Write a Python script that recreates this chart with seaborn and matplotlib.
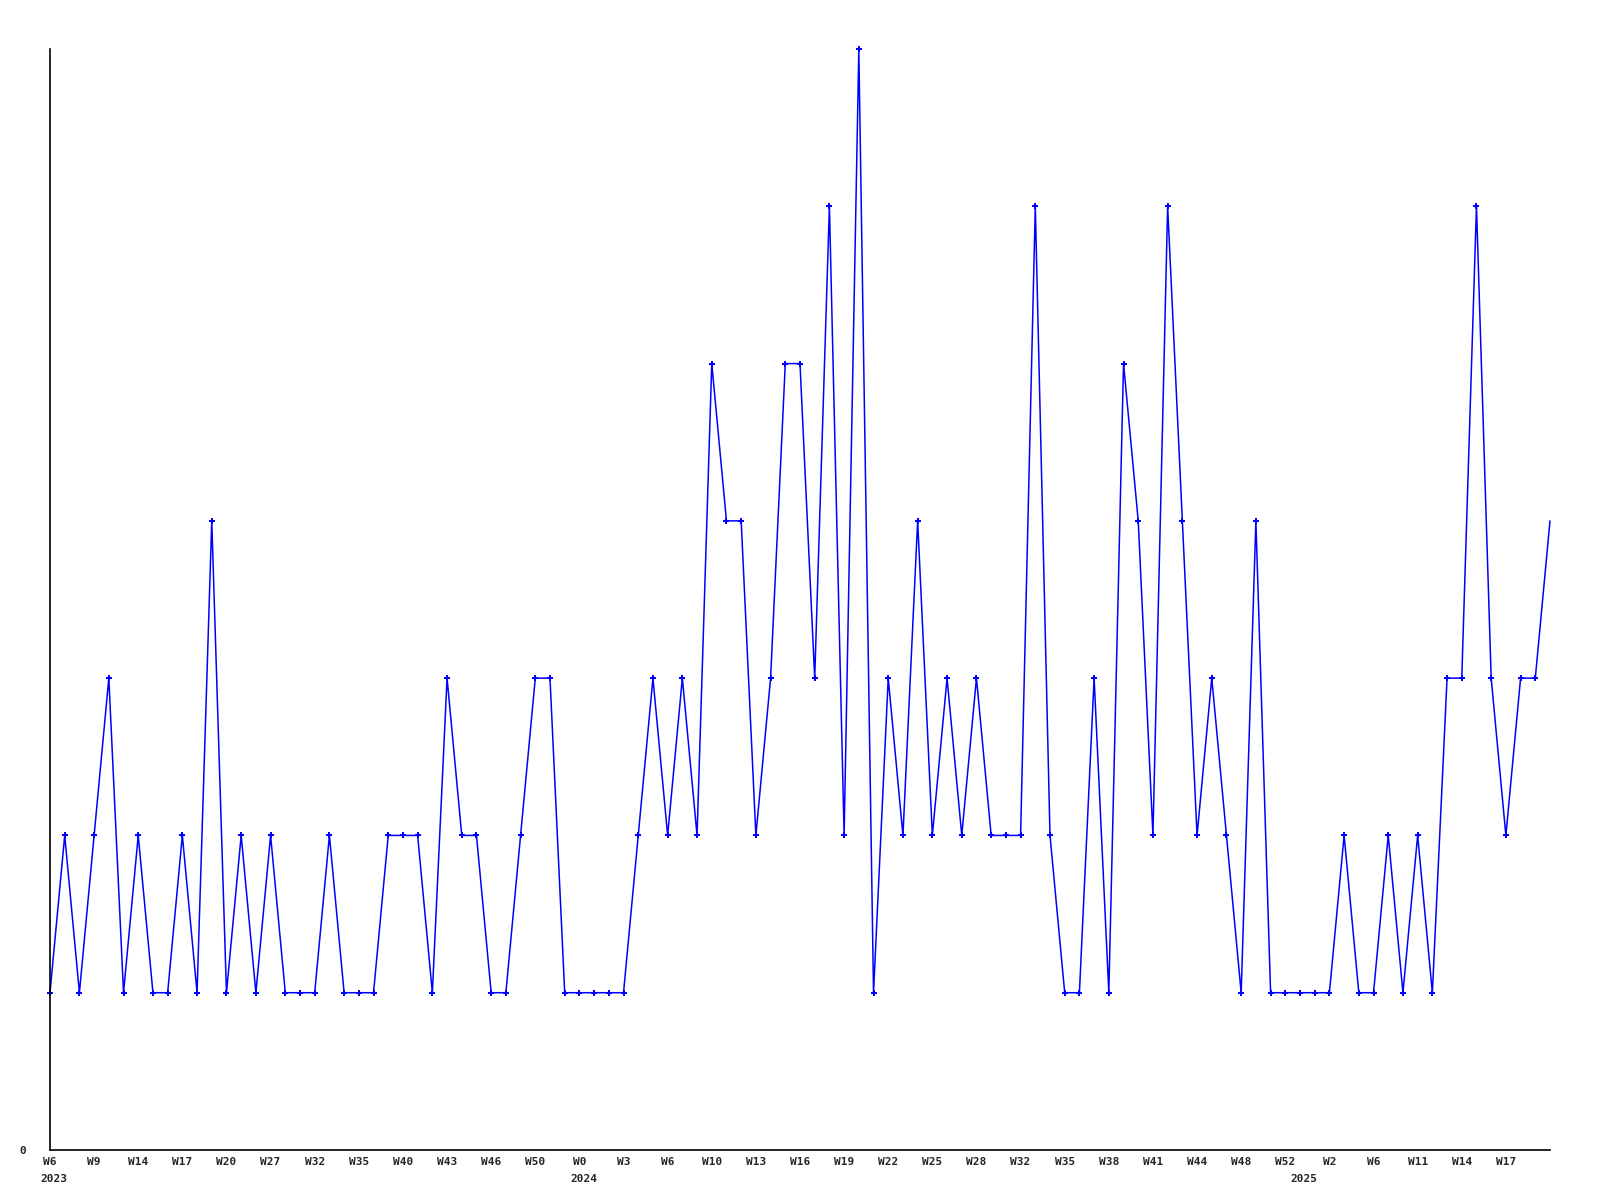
import numpy as np
import pandas as pd
import matplotlib
matplotlib.use('Agg')
import matplotlib.pyplot as plt
import seaborn as sns

# weekly counts (103 weeks, 2023 W6 .. 2025)
counts = [1, 2, 1, 2, 3, 1, 2, 1, 1, 2, 1, 4, 1, 2, 1, 2, 1, 1, 1, 2,
          1, 1, 1, 2, 2, 2, 1, 3, 2, 2, 1, 1, 2, 3, 3, 1, 1, 1, 1, 1,
          2, 3, 2, 3, 2, 5, 4, 4, 2, 3, 5, 5, 3, 6, 2, 7, 1, 3, 2, 4,
          2, 3, 2, 3, 2, 2, 2, 6, 2, 1, 1, 3, 1, 5, 4, 2, 6, 4, 2, 3,
          2, 1, 4, 1, 1, 1, 1, 1, 2, 1, 1, 2, 1, 2, 1, 3, 3, 6, 3, 2,
          3, 3, 4]

# x tick labels, one every 3 weeks
week_labels = ['W6', 'W9', 'W14', 'W17', 'W20', 'W27', 'W32', 'W35', 'W40',
               'W43', 'W46', 'W50', 'W0', 'W3', 'W6', 'W10', 'W13', 'W16',
               'W19', 'W22', 'W25', 'W28', 'W32', 'W35', 'W38', 'W41', 'W44',
               'W48', 'W52', 'W2', 'W6', 'W11', 'W14', 'W17']
years = ['2023', '2024', '2025']
year_week = [0, 36, 85]  # week index where each year label sits

df = pd.DataFrame({'week': np.arange(len(counts)), 'count': counts})

sns.set_theme(style='white')
plt.rcParams['font.family'] = ['DejaVu Sans Mono']

fig = plt.figure(figsize=(16, 12), dpi=100)
ax = fig.add_axes([50 / 1600, 50 / 1200, 1500 / 1600, 1101 / 1200])

sns.lineplot(data=df, x='week', y='count', ax=ax, color='#0000ff',
             linewidth=1.1, marker='P', markersize=4.5, markeredgewidth=0,
             markevery=list(range(len(counts) - 1)), clip_on=False)

ax.set_xlim(0, len(counts) - 1)
ax.set_ylim(0, max(counts))

for s in ['top', 'right']:
    ax.spines[s].set_visible(False)
for s in ['left', 'bottom']:
    ax.spines[s].set_color('black')
    ax.spines[s].set_linewidth(1.2)

ax.set_xticks(np.arange(0, 3 * len(week_labels), 3))
ax.set_xticklabels(week_labels)
ax.set_yticks([0])
ax.set_yticklabels(['0'])
ax.tick_params(axis='x', length=0, pad=5, labelsize=8)
ax.tick_params(axis='y', length=0, pad=17, labelsize=8)
for lab in ax.get_xticklabels() + ax.get_yticklabels():
    lab.set_fontweight('bold')

for yr, wk in zip(years, year_week):
    ax.annotate(yr, xy=(wk, 0), xycoords=('data', 'axes fraction'),
                xytext=(3, -21), textcoords='offset points',
                ha='center', va='center', fontsize=8, fontweight='bold')

ax.set_xlabel('')
ax.set_ylabel('')
ax.grid(False)

fig.savefig('out.png', dpi=100)
